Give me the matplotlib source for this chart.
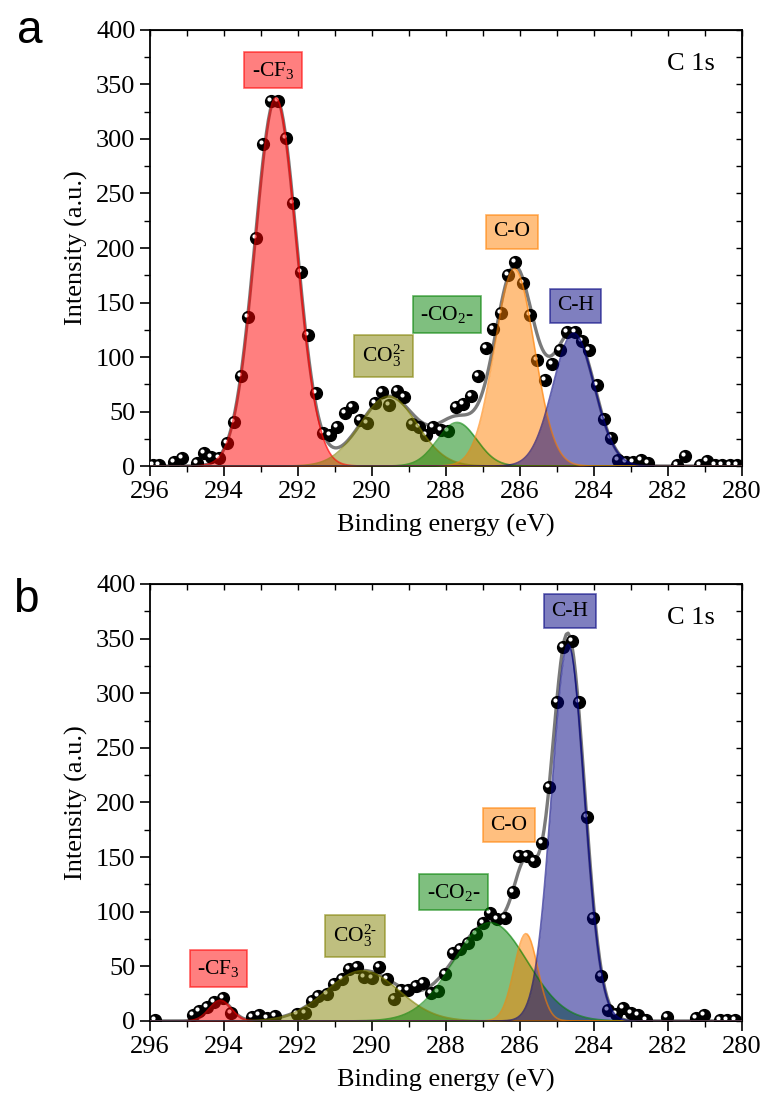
import numpy as np
import matplotlib
matplotlib.use("Agg")
import matplotlib.pyplot as plt
from matplotlib import transforms
from matplotlib.ticker import MultipleLocator
from matplotlib.colors import to_rgba

plt.rcParams['font.family'] = ['Liberation Serif', 'DejaVu Serif']
plt.rcParams['mathtext.fontset'] = 'custom'
plt.rcParams['mathtext.rm'] = 'Liberation Serif'
plt.rcParams['mathtext.it'] = 'Liberation Serif:italic'

# measured points, panel a
be_a = [295.91, 295.75, 295.35, 295.14, 294.74, 294.53, 294.35, 294.13, 293.93, 293.73,
        293.54, 293.34, 293.14, 292.94, 292.74, 292.53, 292.33, 292.13, 291.93, 291.72,
        291.52, 291.33, 291.14, 290.94, 290.73, 290.53, 290.32, 290.13, 289.92, 289.72,
        289.53, 289.33, 289.13, 288.93, 288.73, 288.54, 288.34, 288.14, 287.94, 287.74,
        287.55, 287.33, 287.13, 286.93, 286.72, 286.52, 286.33, 286.13, 285.93, 285.73,
        285.53, 285.32, 285.13, 284.92, 284.72, 284.51, 284.33, 284.13, 283.93, 283.73,
        283.54, 283.34, 283.14, 282.94, 282.74, 282.53, 281.77, 281.54, 281.14, 280.94,
        280.74, 280.55, 280.33, 280.13]
int_a = [1, 1, 4, 7, 2.5, 11.6, 8.5, 7, 21, 40.6,
         82.6, 137, 209, 295, 335, 335, 300.6, 241.6, 178, 120,
         66.7, 30, 28.4, 35.5, 49, 54, 42, 39.7, 58, 68,
         56, 69, 63, 38.5, 36, 28.4, 35.5, 33, 32.4, 54.4,
         57, 64, 82.6, 108.5, 126, 140.6, 175, 187.4, 167.6, 139,
         97, 79, 93.6, 106.4, 123, 123, 115, 106.4, 74, 43,
         26, 6, 4, 4, 6, 2.5, 1, 9, 1, 5,
         1, 1, 1, 1]

# measured points, panel b
be_b = [295.86, 294.85, 294.67, 294.47, 294.27, 294.02, 293.82, 293.25, 293.05, 292.83,
        292.62, 292.04, 291.81, 291.63, 291.45, 291.22, 291.03, 290.82, 290.62, 290.41,
        290.22, 290.01, 289.82, 289.6, 289.41, 289.22, 289.02, 288.82, 288.61, 288.41,
        288.23, 288.02, 287.82, 287.62, 287.4, 287.19, 287.01, 286.81, 286.61, 286.41,
        286.2, 286.02, 285.82, 285.61, 285.41, 285.21, 285.01, 284.83, 284.6, 284.41,
        284.2, 284.02, 283.82, 283.61, 283.41, 283.21, 283.01, 282.8, 282.59, 282.04,
        281.24, 281.03, 280.6, 280.4, 280.2]
int_b = [0.5, 5.5, 9.5, 13, 17.5, 20.7, 7.6, 3.4, 5.5, 2.4,
         4.6, 6.4, 7, 18.6, 23, 24.7, 33.9, 38, 48, 49.7,
         40.5, 39, 49.7, 38, 20, 28.4, 28, 32, 35, 26,
         27, 43, 62, 65.6, 71.7, 80, 90, 98.5, 93, 94,
         117.8, 151, 151, 146.5, 162.6, 214.5, 291.7, 342, 348, 292,
         186.5, 94, 41, 10, 6.4, 11.6, 7.6, 5.5, 1, 3.4,
         2.4, 5.5, 0.5, 0.5, 0.5]

# fitted components (centre eV, height, FWHM eV)
labels = ['-CF$_3$', 'CO$_3^{2\\text{-}}$', '-CO$_2$-', 'C-O', 'C-H']
colors = ['#ff0000', '#808000', '#008000', '#ff8000', '#000080']
center_a = [292.6, 289.55, 287.7, 286.15, 284.55]
height_a = [338, 64, 40, 181, 122]
fwhm_a = [1.33, 1.8, 1.25, 1.27, 1.32]
center_b = [294.1, 290.25, 286.8, 285.84, 284.7]
height_b = [19, 46, 90, 80, 345]
fwhm_b = [0.7, 2.3, 2.35, 0.75, 1.05]

# label positions (eV, intensity)
lab_a = [(292.68, 363), (289.69, 101), (287.97, 139), (286.22, 215), (284.5, 147)]
lab_b = [(294.15, 48), (290.46, 78), (287.79, 118), (286.31, 179), (284.65, 375)]

grid = np.linspace(296, 280, 321)


def gauss(x, c, h, w):
    return h * np.exp(-4 * np.log(2) * (x - c) ** 2 / w ** 2)


def panel(ax, be, inten, cen, hts, fw, labpos):
    comps = [gauss(grid, c, h, w) for c, h, w in zip(cen, hts, fw)]
    total = np.sum(comps, axis=0)
    ax.plot(grid, total, color='#7a7a7a', lw=2.4, zorder=2)
    ax.plot(be, inten, 'o', ms=8.5, mfc='black', mec='black', zorder=3)
    hl = transforms.offset_copy(ax.transData, fig=ax.figure, x=-1.4, y=1.4, units='points')
    ax.plot(be, inten, 'o', ms=3.0, mfc='white', mec='none', transform=hl, zorder=3.1)
    for comp, col in zip(comps, colors):
        ax.fill_between(grid, 0, comp, color=col, alpha=0.5, lw=0, zorder=4)
        ax.plot(grid, comp, color=col, lw=1.2, alpha=0.6, zorder=4.5)
    for (x, y), lab, col in zip(labpos, labels, colors):
        ax.text(x, y, lab, ha='center', va='center', fontsize=15.5, zorder=6,
                bbox=dict(boxstyle='square,pad=0.35', fc=to_rgba(col, 0.5),
                          ec=to_rgba(col, 0.6), lw=1.2))
    ax.text(281.38, 369, 'C 1s', ha='center', va='center', fontsize=19)

    ax.set_xlim(296, 280)
    ax.set_ylim(0, 400)
    ax.xaxis.set_major_locator(MultipleLocator(2))
    ax.xaxis.set_minor_locator(MultipleLocator(1))
    ax.yaxis.set_major_locator(MultipleLocator(50))
    ax.yaxis.set_minor_locator(MultipleLocator(25))
    ax.tick_params(which='major', direction='out', length=7, width=1.2, labelsize=19)
    ax.tick_params(which='minor', direction='out', length=4, width=1.0)
    for s in ax.spines.values():
        s.set_linewidth(1.3)
    top = ax.secondary_xaxis('top')
    top.xaxis.set_major_locator(MultipleLocator(2))
    top.xaxis.set_minor_locator(MultipleLocator(1))
    top.tick_params(which='both', direction='in', labeltop=False, length=4, width=1.0)
    right = ax.secondary_yaxis('right')
    right.yaxis.set_major_locator(MultipleLocator(50))
    right.yaxis.set_minor_locator(MultipleLocator(25))
    right.tick_params(which='both', direction='in', labelright=False, length=4, width=1.0)
    ax.set_xlabel('Binding energy (eV)', fontsize=19, labelpad=8)
    ax.set_ylabel('Intensity (a.u.)', fontsize=19, labelpad=6)


fig = plt.figure(figsize=(7.67, 11.01), dpi=100)
ax1 = fig.add_axes([0.1956, 0.5767, 0.7718, 0.3961])
ax2 = fig.add_axes([0.1956, 0.0727, 0.7718, 0.3969])
panel(ax1, be_a, int_a, center_a, height_a, fwhm_a, lab_a)
panel(ax2, be_b, int_b, center_b, height_b, fwhm_b, lab_b)

fig.text(0.039, 0.972, 'a', family='Liberation Sans', fontsize=33, ha='center', va='center')
fig.text(0.034, 0.455, 'b', family='Liberation Sans', fontsize=33, ha='center', va='center')

fig.savefig('out.png', dpi=100)
